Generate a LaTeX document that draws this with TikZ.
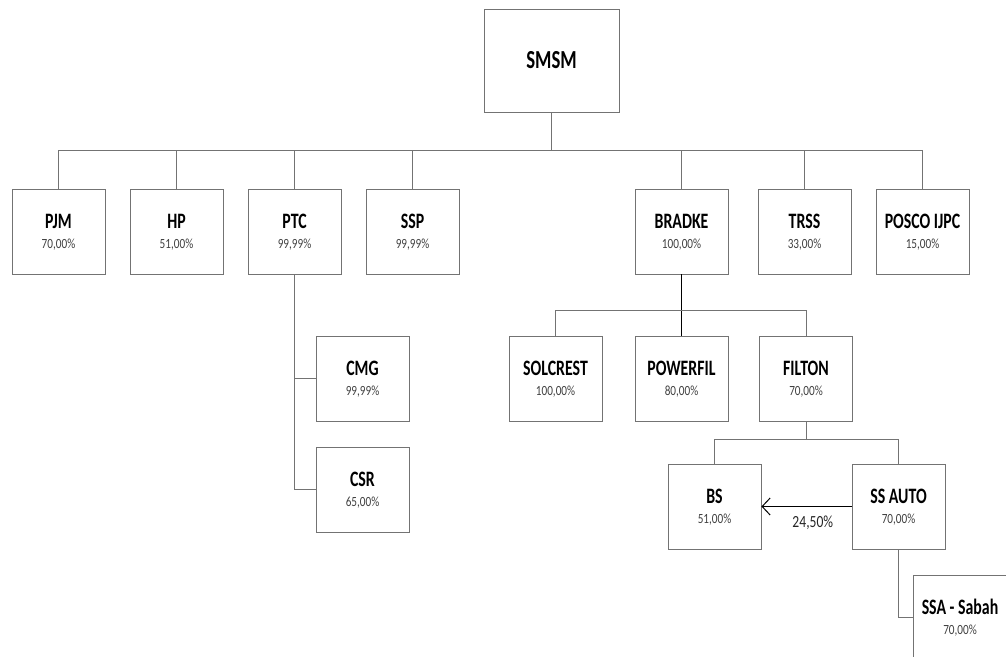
\documentclass[tikz,border=0pt]{standalone}
\usepackage{fontspec}
\setmainfont{Carlito}
\usetikzlibrary{positioning,arrows.meta,calc}

% one company box: name, x, y, title, share
\newcommand\firm[5]{%
  \node[firm] (#1) at (#2,#3) {};
  \node[firmname] (#1n) at ([yshift=10.5pt]#1.center) {\scalebox{.72}[1]{#4}};
  \node[firmpct] (#1p) at ([yshift=-13.5pt]#1.center) {\scalebox{.8}[1]{#5}};}

\begin{document}
\begin{tikzpicture}[x=1pt,y=-1pt,
  firm/.style={draw=black!55,line width=0.9pt,minimum width=93pt,minimum height=85pt,inner sep=0pt},
  firmname/.style={inner sep=0pt,font=\fontsize{22}{24}\selectfont\bfseries},
  firmpct/.style={inner sep=0pt,text=black!75,font=\fontsize{14}{16}\selectfont},
  link/.style={draw=black!55,line width=0.9pt},
  share/.style={line width=1.8pt,-{Straight Barb[length=8pt,width=17pt,line width=1pt]}}]
  \useasboundingbox (0,0) rectangle (1006,656);
  \clip (0,0) rectangle (1006,656);
  \node[firm,minimum width=135pt,minimum height=103pt] (SMSM) at (551.5,60.5) {};
  \node[inner sep=0pt,font=\fontsize{26}{28}\selectfont\bfseries] (SMSMn) at (SMSM.center) {\scalebox{.72}[1]{SMSM}};
  % first level
  \firm{PJM}{58.5}{231.5}{PJM}{70,00\%}
  \firm{HP}{176.5}{231.5}{HP}{51,00\%}
  \firm{PTC}{294.5}{231.5}{PTC}{99,99\%}
  \firm{SSP}{412.5}{231.5}{SSP}{99,99\%}
  \firm{BRADKE}{681.5}{231.5}{BRADKE}{100,00\%}
  \firm{TRSS}{804.5}{231.5}{TRSS}{33,00\%}
  \firm{POSCO}{922.5}{231.5}{POSCO IJPC}{15,00\%}
  % PTC group
  \firm{CMG}{362.5}{378.5}{CMG}{99,99\%}
  \firm{CSR}{362.5}{489.5}{CSR}{65,00\%}
  % BRADKE group
  \firm{SOLCREST}{555.5}{378.5}{SOLCREST}{100,00\%}
  \firm{POWERFIL}{681.5}{378.5}{POWERFIL}{80,00\%}
  \firm{FILTON}{806}{378.5}{FILTON}{70,00\%}
  \firm{BS}{714.5}{506.5}{BS}{51,00\%}
  \firm{SSAUTO}{898.5}{506.5}{SS AUTO}{70,00\%}
  \firm{SSA}{960}{617.5}{SSA - Sabah}{70,00\%}

  \coordinate (bus) at (0,150);
  \coordinate (bus2) at (0,310);
  \coordinate (bus3) at (0,439);
  \draw[link] (SMSM.south) -- (SMSM.south |- bus);
  \draw[link] (PJM.north) -- (PJM.north |- bus) -- (POSCO.north |- bus) -- (POSCO.north);
  \foreach \n in {HP,PTC,SSP,BRADKE,TRSS}
    \draw[link] (\n.north) -- (\n.north |- bus);
  \draw[link] (PTC.south) |- (CMG.west);
  \draw[link] (PTC.south) |- (CSR.west);
  \draw[link,draw=black] (BRADKE.south) -- (POWERFIL.north);
  \draw[link] (SOLCREST.north) -- (SOLCREST.north |- bus2) -- (FILTON.north |- bus2) -- (FILTON.north);
  \draw[link] (FILTON.south) -- (FILTON.south |- bus3);
  \draw[link] (BS.north) -- (BS.north |- bus3) -- (SSAUTO.north |- bus3) -- (SSAUTO.north);
  \draw[link] (SSAUTO.south) |- (SSA.west);
  \draw[share] (SSAUTO.west) -- (BS.east)
    node[pos=0.43,below=8pt,inner sep=0pt,font=\fontsize{17}{18}\selectfont,text=black!85] (cross) {\scalebox{.8}[1]{24,50\%}};
\end{tikzpicture}
\end{document}
